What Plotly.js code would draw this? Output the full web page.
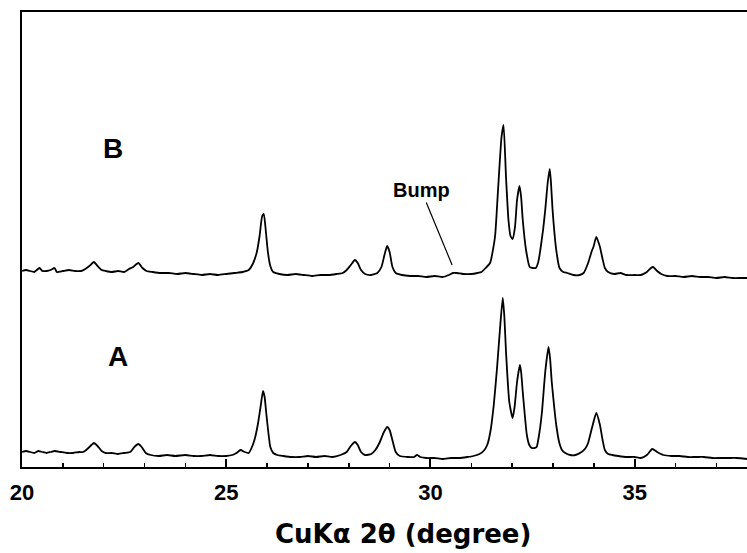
<!DOCTYPE html>
<html>
<head>
<meta charset="utf-8">
<script src="https://cdn.plot.ly/plotly-3.0.1.min.js"></script>
<style>html,body{margin:0;padding:0;background:#fff;}#chart{width:747px;height:553px;}</style>
</head>
<body>
<div id="chart"></div>
<script>
// Pattern B (upper, offset in display intensity, a.u.)
const xB = [20.00,20.10,20.20,20.30,20.43,20.50,20.60,20.70,20.80,20.85,21.00,21.15,21.30,21.45,21.55,21.65,21.76,21.85,21.95,22.05,22.20,22.35,22.50,22.62,22.72,22.85,22.95,23.05,23.20,23.40,23.60,23.80,24.00,24.20,24.40,24.60,24.80,25.00,25.20,25.40,25.55,25.65,25.75,25.82,25.88,25.92,25.96,26.02,26.08,26.15,26.30,26.50,26.70,26.90,27.10,27.30,27.50,27.70,27.85,27.95,28.05,28.15,28.22,28.30,28.40,28.55,28.70,28.80,28.88,28.94,29.00,29.07,29.15,29.30,29.50,29.70,29.90,30.10,30.30,30.45,30.55,30.65,30.80,31.00,31.15,31.25,31.35,31.46,31.58,31.65,31.74,31.79,31.85,31.91,31.96,32.01,32.07,32.12,32.18,32.22,32.26,32.34,32.43,32.50,32.58,32.64,32.69,32.76,32.81,32.87,32.92,32.95,32.99,33.08,33.16,33.25,33.35,33.50,33.65,33.75,33.86,33.95,33.99,34.06,34.12,34.15,34.22,34.27,34.35,34.50,34.65,34.80,35.00,35.15,35.30,35.40,35.45,35.55,35.65,35.80,36.00,36.20,36.40,36.60,36.80,37.00,37.20,37.40,37.60,37.75];
const yB = [196,197,196,195,199,196,196,197,199,195,196,197,196,196,198,201,205,201,197,196,195,196,195,198,200,204,199,196,195,194,194,193,194,193,192,193,192,193,194,195,197,203,215,232,251,253,240,215,201,195,193,192,193,192,191,192,192,193,194,197,202,207,204,197,193,192,194,200,213,221,215,200,194,192,191,191,190,191,190,192,194,194,193,193,194,195,199,204,230,274,330,342,290,247,231,228,240,267,281,270,247,217,200,199,199,205,217,238,257,284,298,285,257,217,199,195,194,192,192,194,204,216,220,230,224,220,207,199,195,193,194,192,192,192,195,199,200,196,193,191,191,190,191,190,190,189,190,189,189,189];
// Pattern A (lower)
const xA = [20.00,20.10,20.20,20.30,20.40,20.50,20.60,20.70,20.80,20.95,21.10,21.25,21.40,21.50,21.60,21.70,21.76,21.85,21.95,22.05,22.20,22.35,22.50,22.65,22.75,22.85,22.93,23.03,23.15,23.35,23.55,23.75,24.00,24.20,24.40,24.60,24.80,25.00,25.15,25.25,25.35,25.45,25.55,25.65,25.71,25.78,25.84,25.90,25.94,25.98,26.03,26.08,26.15,26.25,26.40,26.60,26.80,27.00,27.20,27.40,27.60,27.80,27.95,28.05,28.15,28.22,28.30,28.40,28.55,28.65,28.75,28.85,28.94,29.00,29.08,29.15,29.25,29.45,29.60,29.67,29.75,29.90,30.10,30.30,30.50,30.70,30.90,31.05,31.20,31.30,31.39,31.47,31.55,31.63,31.71,31.77,31.81,31.85,31.93,32.01,32.06,32.12,32.19,32.22,32.26,32.31,32.36,32.42,32.48,32.55,32.60,32.67,32.73,32.81,32.89,32.93,32.97,33.03,33.08,33.15,33.22,33.30,33.42,33.55,33.70,33.80,33.86,33.96,34.06,34.15,34.21,34.27,34.35,34.45,34.60,34.80,35.00,35.15,35.30,35.43,35.55,35.70,35.90,36.10,36.30,36.50,36.70,36.90,37.10,37.30,37.50,37.75];
const yA = [15,16,15,14,16,15,14,15,16,15,14,14,15,15,18,22,24,21,16,14,14,13,14,15,20,23,20,14,12,11,12,11,12,11,11,12,11,11,12,14,17,15,14,22,30,44,60,76,70,54,35,20,14,12,11,10,10,11,10,11,10,12,15,21,25,22,15,12,13,17,24,34,40,37,25,15,11,10,10,12,10,9,9,8,9,9,10,11,13,16,22,36,62,99,142,169,150,115,65,49,60,85,102,95,75,52,32,22,19,19,20,35,55,95,120,108,85,60,42,25,17,14,12,12,15,19,24,40,54,42,28,17,13,12,11,10,10,9,12,18,15,12,11,11,10,10,10,9,9,9,9,8];
const xTickVals = [20,25,30,35];
const xTickText = ["20","25","30","35"];
const xTitle = "CuKα 2θ (degree)";
const sampleLabels = ["B","A"];
const sampleLabelX = [22.24,22.36];
const sampleLabelY = [319,111];
const bumpLabel = "Bump";
const bumpX = 30.53, bumpY = 202;

const font = "Arial, 'Liberation Sans', Helvetica, sans-serif";
const traces = [
  {x:xB, y:yB, type:'scatter', mode:'lines', line:{color:'#000', width:1.8, shape:'spline', smoothing:0.5}, hoverinfo:'skip'},
  {x:xA, y:yA, type:'scatter', mode:'lines', line:{color:'#000', width:1.8, shape:'spline', smoothing:0.5}, hoverinfo:'skip'}
];
const annotations = sampleLabels.map((t,i)=>({x:sampleLabelX[i], y:sampleLabelY[i], xref:'x', yref:'y', text:'<b>'+t+'</b>', showarrow:false, font:{family:font, size:28, color:'#000'}}));
annotations.push({x:bumpX, y:bumpY, xref:'x', yref:'y', text:'<b>'+bumpLabel+'</b>', showarrow:true, arrowhead:0, arrowwidth:1.2, arrowcolor:'#000', ax:-31, ay:-75, standoff:0, font:{family:font, size:20, color:'#000'}});
// x-axis title, placed as in the reference (slightly right of plot centre)
annotations.push({x:0.525, y:-0.147, xref:'paper', yref:'paper', xanchor:'center', yanchor:'middle', text:'<b>'+xTitle+'</b>', showarrow:false, font:{family:"'DejaVu Sans', Arial, sans-serif", size:26, color:'#000'}});

const layout = {
  width:747, height:553,
  margin:{l:22, r:0, t:12, b:86},
  paper_bgcolor:'#fff', plot_bgcolor:'#fff',
  showlegend:false,
  xaxis:{range:[20,37.75], tickvals:xTickVals, ticktext:xTickText.map(t=>'<b>'+t+'</b>'), ticks:'inside', ticklen:8, tickwidth:2, tickcolor:'#000',
    minor:{dtick:1, tick0:20, ticks:'inside', ticklen:4, tickwidth:1.5, tickcolor:'#000'},
    showline:true, linewidth:2, linecolor:'#000', mirror:true, showgrid:false, zeroline:false,
    tickfont:{family:font, size:22, color:'#000'}, ticklabelstandoff:5},
  yaxis:{range:[0,455], showticklabels:false, ticks:'', showgrid:false, zeroline:false, showline:true, linewidth:2, linecolor:'#000', mirror:false},
  annotations:annotations
};
Plotly.newPlot('chart', traces, layout, {staticPlot:true, displayModeBar:false});
</script>
</body>
</html>
